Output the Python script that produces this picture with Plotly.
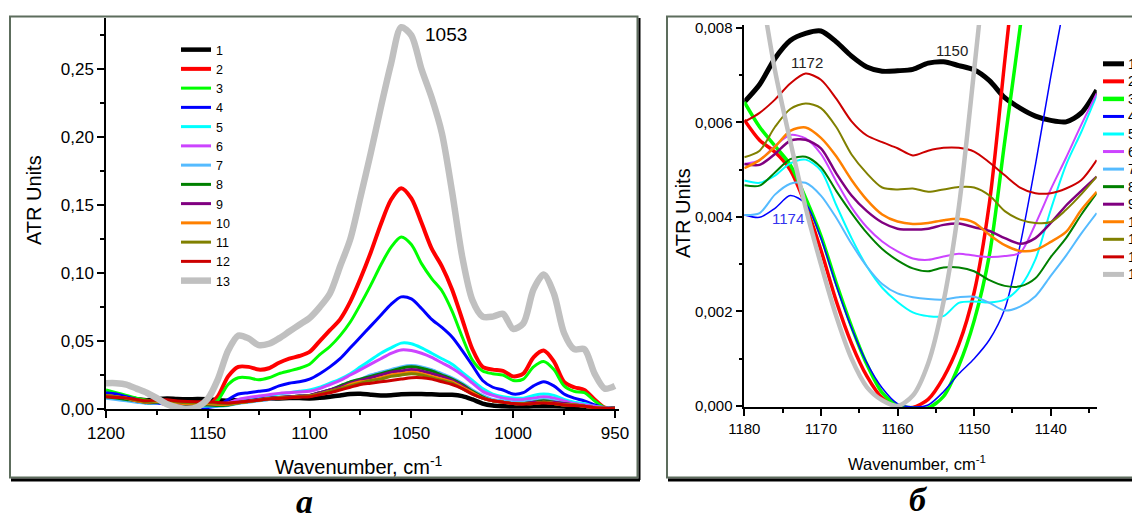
import plotly.graph_objects as go

W, H = 1132, 514

# ---------------- data ----------------
names = [str(i) for i in range(1, 14)]

# panel a: wavenumbers 1200 -> 950 step 5
wn_a = list(range(1200, 945, -5))
a1 = [0.009,0.0085,0.008,0.0072,0.0065,0.0073,0.0078,0.0073,0.0071,0.0073,0.0071,0.0065,0.0061,0.0065,0.0068,0.0072,0.0075,0.0078,0.008,0.008,0.0078,0.0082,0.009,0.010,0.011,0.0112,0.0105,0.010,0.0102,0.0108,0.011,0.011,0.0108,0.0105,0.0105,0.0095,0.007,0.004,0.0025,0.002,0.0018,0.0018,0.002,0.002,0.002,0.0018,0.0012,0.0008,0.0005,0.0002,0.0001]
a2 = [0.011,0.010,0.009,0.007,0.006,0.0053,0.0033,0.0013,0.0001,0.0004,0.0023,0.0095,0.024,0.031,0.031,0.029,0.030,0.034,0.037,0.039,0.042,0.050,0.058,0.066,0.079,0.096,0.115,0.136,0.154,0.1625,0.155,0.137,0.118,0.105,0.088,0.066,0.044,0.031,0.029,0.028,0.024,0.026,0.038,0.043,0.035,0.020,0.016,0.014,0.007,0.001,0.0005]
a3 = [0.014,0.012,0.010,0.008,0.0064,0.0054,0.0036,0.0011,0.0,0.0,0.0018,0.0065,0.018,0.023,0.023,0.0215,0.023,0.026,0.028,0.030,0.033,0.040,0.046,0.054,0.064,0.077,0.091,0.106,0.119,0.1265,0.121,0.107,0.096,0.087,0.072,0.053,0.036,0.028,0.026,0.025,0.021,0.022,0.031,0.035,0.029,0.017,0.013,0.012,0.006,0.001,0.0005]
a4 = [0.012,0.011,0.009,0.007,0.0042,0.0043,0.0037,0.0012,0.0001,0.0001,0.001,0.0025,0.007,0.011,0.012,0.013,0.014,0.017,0.019,0.020,0.022,0.026,0.031,0.037,0.045,0.053,0.061,0.069,0.077,0.0825,0.081,0.074,0.066,0.060,0.053,0.043,0.032,0.021,0.016,0.014,0.011,0.012,0.017,0.020,0.017,0.011,0.008,0.006,0.003,0.001,0.0005]
a5 = [0.009,0.008,0.007,0.006,0.0048,0.0049,0.0049,0.003,0.0021,0.0019,0.0022,0.0024,0.0042,0.0065,0.008,0.009,0.010,0.011,0.012,0.013,0.014,0.016,0.019,0.022,0.026,0.031,0.036,0.041,0.045,0.0485,0.048,0.045,0.041,0.037,0.033,0.027,0.021,0.015,0.011,0.009,0.008,0.008,0.010,0.011,0.010,0.007,0.005,0.004,0.002,0.001,0.0003]
a6 = [0.010,0.009,0.008,0.006,0.0051,0.0056,0.0051,0.0040,0.0033,0.0031,0.0032,0.0032,0.0045,0.0070,0.0085,0.0095,0.0105,0.0115,0.012,0.0125,0.013,0.015,0.018,0.021,0.025,0.029,0.033,0.037,0.041,0.0435,0.043,0.041,0.038,0.034,0.030,0.025,0.019,0.013,0.010,0.008,0.007,0.007,0.008,0.009,0.008,0.006,0.004,0.003,0.002,0.001,0.0003]
a7 = [0.008,0.007,0.006,0.005,0.0041,0.0045,0.0043,0.0031,0.0024,0.0022,0.0023,0.0020,0.0026,0.0040,0.005,0.006,0.007,0.008,0.009,0.0095,0.010,0.012,0.014,0.017,0.020,0.022,0.025,0.027,0.029,0.031,0.032,0.031,0.029,0.026,0.023,0.019,0.014,0.010,0.007,0.006,0.005,0.005,0.006,0.007,0.006,0.004,0.003,0.002,0.001,0.0005,0.0002]
a8 = [0.009,0.008,0.007,0.006,0.0047,0.0050,0.0049,0.0038,0.0031,0.0029,0.0029,0.0025,0.0030,0.0044,0.0055,0.0065,0.0075,0.0085,0.009,0.0095,0.010,0.012,0.014,0.017,0.020,0.022,0.024,0.026,0.028,0.030,0.031,0.030,0.028,0.025,0.022,0.018,0.013,0.009,0.006,0.005,0.004,0.004,0.005,0.006,0.005,0.004,0.003,0.002,0.001,0.0005,0.0002]
a9 = [0.010,0.009,0.008,0.006,0.0051,0.0054,0.0054,0.0042,0.0037,0.0038,0.0038,0.0035,0.0040,0.0050,0.006,0.007,0.008,0.0085,0.009,0.0095,0.010,0.012,0.014,0.016,0.019,0.021,0.023,0.025,0.027,0.028,0.029,0.028,0.026,0.024,0.021,0.017,0.012,0.008,0.006,0.005,0.004,0.004,0.005,0.005,0.005,0.004,0.003,0.002,0.001,0.0005,0.0002]
a10 = [0.010,0.009,0.008,0.006,0.0050,0.0055,0.0057,0.0046,0.0039,0.0039,0.0039,0.0034,0.0035,0.0045,0.0055,0.0065,0.0075,0.008,0.0085,0.009,0.0095,0.011,0.013,0.015,0.018,0.020,0.021,0.023,0.025,0.026,0.027,0.026,0.024,0.022,0.020,0.016,0.012,0.008,0.006,0.005,0.004,0.004,0.004,0.005,0.004,0.003,0.003,0.002,0.001,0.0005,0.0002]
a11 = [0.010,0.009,0.008,0.0065,0.0053,0.0060,0.0062,0.0052,0.0046,0.0045,0.0046,0.0041,0.0039,0.0048,0.0055,0.0065,0.0075,0.008,0.0085,0.009,0.0095,0.011,0.013,0.015,0.017,0.019,0.021,0.022,0.024,0.025,0.026,0.025,0.023,0.021,0.019,0.015,0.011,0.008,0.006,0.005,0.004,0.004,0.004,0.005,0.004,0.003,0.003,0.002,0.001,0.0005,0.0002]
a12 = [0.009,0.0085,0.008,0.007,0.0060,0.0066,0.0068,0.0059,0.0055,0.0054,0.0054,0.0048,0.0045,0.0050,0.0057,0.0065,0.0073,0.0078,0.0083,0.0088,0.009,0.0105,0.012,0.014,0.016,0.018,0.019,0.020,0.021,0.022,0.023,0.023,0.022,0.020,0.018,0.015,0.011,0.008,0.006,0.005,0.004,0.0035,0.004,0.0045,0.004,0.003,0.0025,0.002,0.001,0.0005,0.0002]
a13 = [0.019,0.019,0.018,0.015,0.012,0.008,0.0035,0.0012,0.0,0.0015,0.0075,0.022,0.043,0.054,0.052,0.047,0.048,0.052,0.057,0.062,0.067,0.075,0.085,0.105,0.125,0.156,0.188,0.222,0.254,0.281,0.275,0.250,0.229,0.203,0.160,0.112,0.080,0.068,0.068,0.070,0.059,0.063,0.088,0.099,0.085,0.056,0.044,0.044,0.026,0.015,0.017]
series_a = [a1, a2, a3, a4, a5, a6, a7, a8, a9, a10, a11, a12, a13]

# panel b: wavenumbers 1180 -> 1134 step 2
wn_b = list(range(1180, 1132, -2))
b1 = [0.00643,0.0068,0.00735,0.00773,0.00788,0.00793,0.0077,0.0074,0.00717,0.00708,0.00709,0.00712,0.00725,0.00728,0.0072,0.00711,0.00688,0.00652,0.0063,0.00613,0.00604,0.00601,0.0062,0.00668]
b2 = [0.00605,0.00562,0.00537,0.00499,0.00425,0.0033,0.00222,0.00132,0.00063,0.00017,0.0,-0.00003,0.00014,0.0006,0.0013,0.0024,0.0043,0.0073,0.0103,0.0135,0.017,0.021,0.025,0.029]
b3 = [0.00643,0.0059,0.0055,0.0051,0.0044,0.0036,0.0026,0.00168,0.00088,0.00028,0.00002,-0.00004,-0.00004,0.0002,0.00085,0.0018,0.0032,0.0056,0.008,0.0105,0.0135,0.0165,0.0195,0.0225]
b4 = [0.00404,0.00399,0.00418,0.00445,0.00428,0.00355,0.00255,0.00165,0.00091,0.00038,0.00005,-0.00002,0.00002,0.0003,0.00068,0.001,0.0014,0.00205,0.0034,0.0051,0.00696,0.0087,0.0104,0.0118]
b5 = [0.00477,0.00472,0.00487,0.00513,0.00521,0.00498,0.00425,0.00355,0.00295,0.0025,0.0022,0.00198,0.0019,0.0019,0.00218,0.00221,0.00219,0.00225,0.00252,0.0031,0.00415,0.0051,0.0058,0.00657]
b6 = [0.00512,0.0052,0.0055,0.00573,0.00566,0.00533,0.00475,0.0042,0.00378,0.00348,0.00327,0.00312,0.00309,0.00316,0.00322,0.00318,0.00315,0.00317,0.00324,0.00385,0.00458,0.00525,0.00595,0.00661]
b7 = [0.00404,0.00408,0.00447,0.0047,0.00472,0.00445,0.00398,0.00343,0.00295,0.00258,0.00238,0.0023,0.00226,0.00225,0.0023,0.00231,0.00218,0.00202,0.0021,0.00232,0.00275,0.00318,0.00365,0.00408]
b8 = [0.00467,0.00466,0.00494,0.00522,0.00527,0.00505,0.00455,0.00408,0.00366,0.00332,0.00308,0.00291,0.00285,0.00293,0.00293,0.00285,0.00266,0.00254,0.00253,0.0027,0.00315,0.00355,0.00405,0.0045]
b9 = [0.00512,0.0051,0.00533,0.00561,0.00563,0.00545,0.00492,0.00445,0.00412,0.00388,0.00375,0.00373,0.00375,0.00383,0.00386,0.00378,0.0037,0.00355,0.00343,0.00355,0.00387,0.00424,0.00455,0.00485]
b10 = [0.00503,0.0052,0.00548,0.00582,0.00589,0.00567,0.00528,0.00478,0.00436,0.00405,0.0039,0.00385,0.00387,0.00393,0.00396,0.00388,0.00362,0.0034,0.00328,0.0033,0.00347,0.00368,0.00415,0.00453]
b11 = [0.00526,0.0054,0.0059,0.00628,0.0064,0.0063,0.0059,0.00532,0.00492,0.00462,0.00458,0.0046,0.00453,0.00458,0.00463,0.00462,0.00445,0.00412,0.00394,0.00387,0.00389,0.00415,0.00448,0.00485]
b12 = [0.00601,0.0062,0.00648,0.00682,0.00703,0.0069,0.0065,0.00602,0.00572,0.00558,0.00545,0.0053,0.0054,0.00546,0.00546,0.00538,0.00515,0.00488,0.00462,0.0045,0.0045,0.0046,0.00478,0.0052]
b13 = [0.0108,0.009,0.0071,0.0056,0.0042,0.003,0.0019,0.001,0.0004,0.00012,0.0,0.00022,0.0009,0.0022,0.0042,0.0071,0.0102,0.0135,0.017,0.021,0.025,0.029,0.033,0.037]
series_b = [b1, b2, b3, b4, b5, b6, b7, b8, b9, b10, b11, b12, b13]

for s in series_a:
    assert len(s) == len(wn_a), len(s)
for s in series_b:
    assert len(s) == len(wn_b), len(s)

# ---------------- styles ----------------
colors = ["#000000", "#FF0000", "#00FF00", "#0000FF", "#00FFFF", "#CC44FF", "#55BBFF",
          "#008000", "#800080", "#FF8000", "#808000", "#CC0000", "#C0C0C0"]
widths_a = [4.5, 4, 3, 3, 3, 3, 3, 3, 3, 3, 3, 3, 6.5]
widths_b = [5, 3.5, 3.5, 1.5, 2, 2, 2, 2, 2.5, 2.5, 2, 2, 4.5]
widths_legend_b = [5, 4, 4.5, 3, 3, 3, 3, 3, 3, 3, 3, 3, 5]

SANS = "Liberation Sans, Arial, sans-serif"
SERIF = "Liberation Serif, DejaVu Serif, serif"


def fx(p):
    return p / W


def fy(p):
    return 1 - p / H


fig = go.Figure()
for i, nm in enumerate(names):
    fig.add_trace(go.Scatter(
        x=wn_a, y=series_a[i], name=nm, mode="lines",
        line=dict(color=colors[i], width=widths_a[i], shape="spline", smoothing=0.8),
        xaxis="x", yaxis="y", hoverinfo="skip"))
for i, nm in enumerate(names):
    fig.add_trace(go.Scatter(
        x=wn_b, y=series_b[i], name=nm, mode="lines",
        line=dict(color=colors[i], width=widths_b[i], shape="spline", smoothing=0.8),
        xaxis="x2", yaxis="y2", showlegend=False, hoverinfo="skip"))

common = dict(showline=True, linecolor="black", linewidth=1.5, ticks="outside",
              tickcolor="black", tickwidth=1.5, showgrid=False, zeroline=False,
              automargin=False)
minor_style = dict(ticks="outside", ticklen=4, tickcolor="black", tickwidth=1.5, showgrid=False)

fig.update_layout(
    width=W, height=H,
    margin=dict(l=0, r=0, t=0, b=0, pad=0, autoexpand=False),
    paper_bgcolor="white", plot_bgcolor="white",
    separators=", ",
    xaxis=dict(domain=[fx(106), fx(619)], range=[1200, 948], tick0=1000, dtick=50,
               ticklen=7, minor=dict(dtick=25, **minor_style), anchor="y",
               tickfont=dict(family=SANS, size=17, color="black"), **common),
    yaxis=dict(domain=[fy(409.4), fy(17.7)], range=[-0.0003, 0.288], tick0=0, dtick=0.05,
               tickformat=".2f", ticklen=7, minor=dict(dtick=0.025, **minor_style), anchor="x",
               tickfont=dict(family=SANS, size=17, color="black"), **common),
    xaxis2=dict(domain=[fx(744.3), fx(1096.7)], range=[1180, 1134], tick0=1180, dtick=10,
                ticklen=7, minor=dict(dtick=5, **minor_style), anchor="y2",
                tickfont=dict(family=SANS, size=15, color="black"), **common),
    yaxis2=dict(domain=[fy(406.9), fy(24.9)], range=[-0.00002, 0.00806], tick0=0, dtick=0.002,
                tickformat=".3f", ticklen=7, minor=dict(dtick=0.001, **minor_style), anchor="x2",
                tickfont=dict(family=SANS, size=15, color="black"), **common),
    legend=dict(x=fx(176), y=fy(35), xanchor="left", yanchor="top",
                bgcolor="rgba(0,0,0,0)", borderwidth=0, tracegroupgap=0,
                font=dict(family=SANS, size=12.5, color="black"), itemwidth=30),
    showlegend=True,
)

shapes = []
annotations = []

# panel frames
FRAME = "#5d6d5d"
shapes.append(dict(type="rect", xref="paper", yref="paper", x0=fx(10), x1=fx(637.5),
                   y0=fy(477.5), y1=fy(16.5), line=dict(color=FRAME, width=2)))
shapes.append(dict(type="path", xref="paper", yref="paper",
                   path=f"M {fx(1132)} {fy(16.5)} L {fx(667)} {fy(16.5)} L {fx(667)} {fy(477.5)} L {fx(1132)} {fy(477.5)}",
                   line=dict(color=FRAME, width=2)))
shapes.append(dict(type="line", xref="paper", yref="paper", x0=fx(11), x1=fx(640),
                   y0=fy(480), y1=fy(480), line=dict(color="black", width=3)))
shapes.append(dict(type="line", xref="paper", yref="paper", x0=fx(639.5), x1=fx(639.5),
                   y0=fy(480), y1=fy(18), line=dict(color="black", width=2)))
shapes.append(dict(type="line", xref="paper", yref="paper", x0=fx(668), x1=fx(1132),
                   y0=fy(480), y1=fy(480), line=dict(color="black", width=3)))

# legend of panel b (cut by the page edge, as in the original)
for i, nm in enumerate(names):
    yy = 63.8 + 17.55 * i
    shapes.append(dict(type="line", xref="paper", yref="paper", x0=fx(1103), x1=fx(1124),
                       y0=fy(yy), y1=fy(yy), line=dict(color=colors[i], width=widths_legend_b[i])))
    annotations.append(dict(xref="paper", yref="paper", x=fx(1126), y=fy(yy), text=nm,
                            showarrow=False, xanchor="left", yanchor="middle",
                            font=dict(family=SANS, size=14, color="black")))

# axis titles
annotations += [
    dict(xref="paper", yref="paper", x=fx(34), y=fy(200), text="ATR Units", textangle=-90,
         showarrow=False, xanchor="center", yanchor="middle",
         font=dict(family=SANS, size=20, color="black")),
    dict(xref="paper", yref="paper", x=fx(359), y=fy(465), text="Wavenumber, cm<sup>-1</sup>",
         showarrow=False, xanchor="center", yanchor="middle",
         font=dict(family=SANS, size=20, color="black")),
    dict(xref="paper", yref="paper", x=fx(683), y=fy(213), text="ATR Units", textangle=-90,
         showarrow=False, xanchor="center", yanchor="middle",
         font=dict(family=SANS, size=20, color="black")),
    dict(xref="paper", yref="paper", x=fx(917), y=fy(463), text="Wavenumber, cm<sup>-1</sup>",
         showarrow=False, xanchor="center", yanchor="middle",
         font=dict(family=SANS, size=16.5, color="black")),
    # peak labels
    dict(xref="paper", yref="paper", x=fx(446), y=fy(35), text="1053",
         showarrow=False, xanchor="center", yanchor="middle",
         font=dict(family=SANS, size=19, color="black")),
    dict(xref="paper", yref="paper", x=fx(807), y=fy(62), text="1172",
         showarrow=False, xanchor="center", yanchor="middle",
         font=dict(family=SANS, size=15, color="#222222")),
    dict(xref="paper", yref="paper", x=fx(952), y=fy(51), text="1150",
         showarrow=False, xanchor="center", yanchor="middle",
         font=dict(family=SANS, size=15, color="#222222")),
    dict(xref="paper", yref="paper", x=fx(788), y=fy(218), text="1174",
         showarrow=False, xanchor="center", yanchor="middle",
         font=dict(family=SANS, size=15, color="#3333EE")),
    # panel captions
    dict(xref="paper", yref="paper", x=fx(304), y=fy(501), text="<b><i>а</i></b>",
         showarrow=False, xanchor="center", yanchor="middle",
         font=dict(family=SERIF, size=34, color="black")),
    dict(xref="paper", yref="paper", x=fx(918), y=fy(499), text="<b><i>б</i></b>",
         showarrow=False, xanchor="center", yanchor="middle",
         font=dict(family=SERIF, size=34, color="black")),
]

fig.update_layout(shapes=shapes, annotations=annotations)
fig.write_html("out.html")
